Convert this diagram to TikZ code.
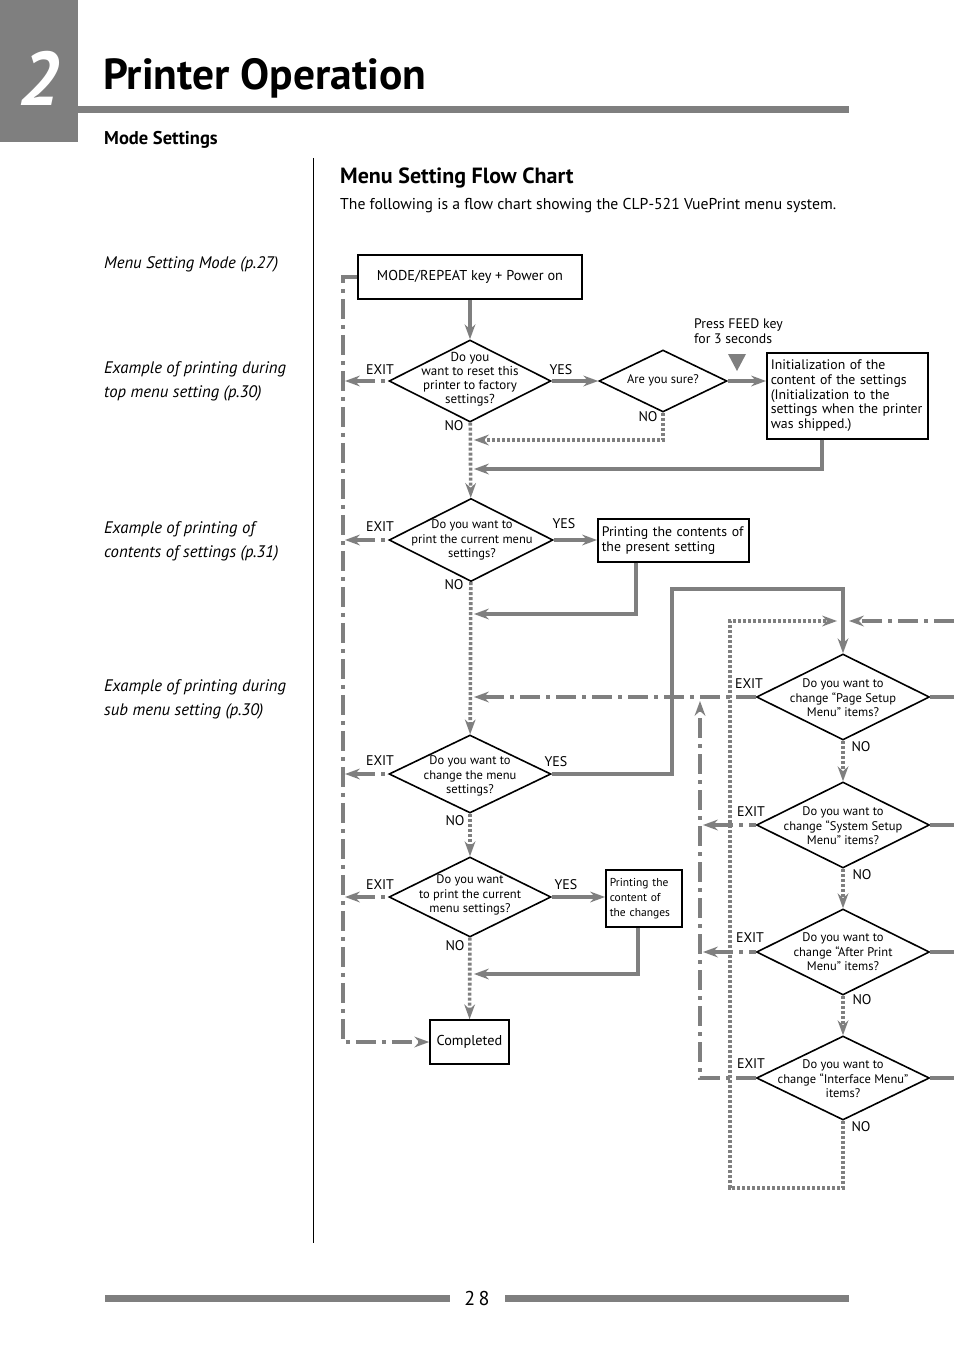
\documentclass[tikz,border=0pt]{standalone}
\usepackage{fontspec}
\setmainfont{PT Sans}
\usetikzlibrary{arrows.meta, shapes.geometric}

\definecolor{flowgrey}{HTML}{7F7F7F}

\tikzset{
    box/.style={draw=black, line width=1.6pt, fill=white, inner sep=0pt, font=\fontsize{14.3}{15.5}\selectfont},
    txtbox/.style={box, anchor=north west, align=left, inner xsep=4pt, font=\fontsize{13.8}{14.6}\selectfont},
    dia/.style={draw=black, line width=1.6pt, fill=white, diamond, inner sep=0pt},
    diatext/.style={align=center, inner sep=0pt, font=\fontsize{12.5}{14.5}\selectfont},
    lbl/.style={inner sep=0pt, font=\fontsize{14}{15}\selectfont},
    note/.style={anchor=west, inner sep=0pt, align=left, font=\fontsize{16.7}{24}\selectfont\itshape},
    greyline/.style={draw=flowgrey, line width=3.6pt},
    tip/.style={-{Stealth[length=15pt,width=11pt,inset=5pt,line width=0pt]}},
    backtip/.style={{Stealth[length=15pt,width=11pt,inset=5pt,line width=0pt]}-},
    go/.style={greyline, tip},
    exitline/.style={greyline, dash pattern=on 20pt off 6pt on 4pt off 6pt},
    exitgo/.style={exitline, tip},
    exitback/.style={exitline, backtip},
    nogo/.style={greyline, dash pattern=on 3pt off 2pt, tip}
}

\begin{document}
\begin{tikzpicture}[x=1pt, y=-1pt]
    \useasboundingbox (0,0) rectangle (954,1348);

    % page head
    \fill[flowgrey] (0,0) rectangle (78,142);
    \node[text=white, font=\fontsize{76}{76}\selectfont\bfseries\itshape] (chapno) at (39,78) {2};
    \fill[flowgrey] (78,106) rectangle (849,113);
    \node[anchor=base west, inner sep=0pt, font=\fontsize{43.5}{43.5}\selectfont\bfseries] (title) at (103,90) {Printer Operation};
    \node[anchor=west, inner sep=0pt, font=\fontsize{18.5}{18.5}\selectfont\bfseries] (section) at (104,140) {Mode Settings};
    \draw[line width=1pt] (313,158) -- (313,1243);
    \node[anchor=west, inner sep=0pt, font=\fontsize{22}{22}\selectfont\bfseries] (head) at (340,178) {Menu Setting Flow Chart};
    \node[anchor=west, inner sep=0pt, font=\fontsize{15.7}{15.7}\selectfont] (intro) at (340,206) {The following is a flow chart showing the CLP-521 VuePrint menu system.};

    % side notes
    \node[note] (note1) at (104,264) {Menu Setting Mode (p.27)};
    \node[note] (note2) at (104,381) {Example of printing during\\top menu setting (p.30)};
    \node[note] (note3) at (104,541) {Example of printing of\\contents of settings (p.31)};
    \node[note] (note4) at (104,699) {Example of printing during\\sub menu setting (p.30)};

    % page foot
    \fill[flowgrey] (105,1295) rectangle (450,1302);
    \fill[flowgrey] (505,1295) rectangle (849,1302);
    \node[inner sep=0pt, font=\fontsize{20}{20}\selectfont] (pageno) at (477,1298) {2\,8};

    % boxes
    \node[box, minimum width=224pt, minimum height=44pt] (start) at (470,277) {MODE/REPEAT key + Power on};
    \node[txtbox, text width=153pt, minimum height=86pt] (init) at (766,352)
        {Initialization of the\\content of the settings\\(Initialization to the\\settings when the printer\\was shipped.)};
    \node[txtbox, text width=143pt, minimum height=43pt] (p1) at (597,518)
        {Printing the contents of\\the present setting};
    \node[txtbox, text width=68pt, minimum height=57pt, font=\fontsize{11.5}{15}\selectfont] (p2) at (605,869)
        {Printing the\\content of\\the changes};
    \node[box, minimum width=79pt, minimum height=44pt] (done) at (469.5,1042) {Completed};

    % diamonds
    \node[dia, minimum width=162pt, minimum height=82pt] (d1) at (470,381) {};
    \node[diatext, font=\fontsize{13}{14}\selectfont] (t1) at (470,379) {Do you\\want to reset this\\printer to factory\\settings?};
    \node[dia, minimum width=128pt, minimum height=62pt] (d2) at (663,381) {};
    \node[diatext] (t2) at (663,380) {Are you sure?};
    \node[dia, minimum width=164pt, minimum height=83pt] (d3) at (471,540) {};
    \node[diatext] (t3) at (472,540) {Do you want to\\print the current menu\\settings?};
    \node[dia, minimum width=162pt, minimum height=78pt] (d4) at (470,774) {};
    \node[diatext] (t4) at (470,776) {Do you want to\\change the menu\\settings?};
    \node[dia, minimum width=162pt, minimum height=80pt] (d9) at (470,897) {};
    \node[diatext] (t9) at (470,895) {Do you want\\to print the current\\menu settings?};
    \node[dia, minimum width=173pt, minimum height=86pt] (d5) at (843,697) {};
    \node[diatext] (t5) at (843,698) {Do you want to\\change ``Page Setup\\Menu'' items?};
    \node[dia, minimum width=173pt, minimum height=86pt] (d6) at (843,825) {};
    \node[diatext] (t6) at (843,826) {Do you want to\\change ``System Setup\\Menu'' items?};
    \node[dia, minimum width=173pt, minimum height=86pt] (d7) at (843,952) {};
    \node[diatext] (t7) at (843,952) {Do you want to\\change ``After Print\\Menu'' items?};
    \node[dia, minimum width=173pt, minimum height=84pt] (d8) at (843,1078) {};
    \node[diatext] (t8) at (843,1079) {Do you want to\\change ``Interface Menu''\\items?};

    % labels
    \node[lbl] (e1) at (380,370) {EXIT};
    \node[lbl] (e3) at (380,527) {EXIT};
    \node[lbl] (e4) at (380,761) {EXIT};
    \node[lbl] (e9) at (380,885) {EXIT};
    \node[lbl] (e5) at (749,684) {EXIT};
    \node[lbl] (e6) at (751,812) {EXIT};
    \node[lbl] (e7) at (750,938) {EXIT};
    \node[lbl] (e8) at (751,1064) {EXIT};
    \node[lbl] (y1) at (561,370) {YES};
    \node[lbl] (y3) at (564,524) {YES};
    \node[lbl] (y4) at (556,762) {YES};
    \node[lbl] (y9) at (566,885) {YES};
    \node[lbl] (n1) at (454,426) {NO};
    \node[lbl] (n2) at (648,417) {NO};
    \node[lbl] (n3) at (454,585) {NO};
    \node[lbl] (n4) at (455,821) {NO};
    \node[lbl] (n9) at (455,946) {NO};
    \node[lbl] (n5) at (861,747) {NO};
    \node[lbl] (n6) at (862,875) {NO};
    \node[lbl] (n7) at (862,1000) {NO};
    \node[lbl] (n8) at (861,1127) {NO};
    \node[anchor=west, align=left, inner sep=0pt, font=\fontsize{13.8}{15}\selectfont] (feed) at (694,331) {Press FEED key\\for 3 seconds};
    \fill[flowgrey] (728,354) -- (746,354) -- (737,371) -- cycle;

    % helper points
    \coordinate (exitL) at (345,0);
    \coordinate (mainV) at (474,0);
    \coordinate (subV) at (703,0);
    \coordinate (rEdge) at (954,0);
    \coordinate (lbot) at (343,1042);
    \coordinate (j1) at (663,440);
    \coordinate (r0) at (822,469);
    \coordinate (r1) at (636,614);
    \coordinate (r2) at (638,974);
    \coordinate (yes4) at (672,589);
    \coordinate (rtop) at (954,621);
    \coordinate (rjoin) at (849,621);
    \coordinate (lpb) at (730,1188);
    \coordinate (lpt) at (730,621);
    \coordinate (lpend) at (837,621);
    \coordinate (upend) at (700,701);

    % main flow
    \draw[go] (start) -- (d1);
    \draw[go] (d1) -- (d2);
    \draw[go] (d2.east) -- (d2.east -| init.west);
    \draw[nogo] (d2.south) -- (j1) -- (j1 -| mainV);
    \draw[go] (init.south -| r0) -- (r0) -- (r0 -| mainV);
    \draw[nogo] (d1) -- (d3);
    \draw[go] (d3.east) -- (d3.east -| p1.west);
    \draw[go] (p1.south -| r1) -- (r1) -- (r1 -| mainV);
    \draw[nogo] (d3) -- (d4);
    \draw[go] (d4.east) -| (yes4) -| (d5.north);
    \draw[nogo] (d4) -- (d9);
    \draw[go] (d9.east) -- (d9.east -| p2.west);
    \draw[go] (p2.south -| r2) -- (r2) -- (r2 -| mainV);
    \draw[nogo] (d9) -- (done);

    % exits to the left
    \draw[exitgo] (start.west) -| (lbot) -- (done);
    \draw[exitback] (d1.west -| exitL) -- (d1.west);
    \draw[exitback] (d3.west -| exitL) -- (d3.west);
    \draw[exitback] (d4.west -| exitL) -- (d4.west);
    \draw[exitback] (d9.west -| exitL) -- (d9.west);

    % sub menus
    \draw[nogo] (d5) -- (d6);
    \draw[nogo] (d6) -- (d7);
    \draw[nogo] (d7) -- (d8);
    \draw[nogo] (d8.south) |- (lpb) -- (lpt) -- (lpend);
    \draw[exitgo] (rtop) -- (rjoin);
    \draw[exitback] (d5.west -| mainV) -- (d5.west);
    \draw[exitback] (d6.west -| subV) -- (d6.west);
    \draw[exitback] (d7.west -| subV) -- (d7.west);
    \draw[exitgo] (d8.west) -| (upend);
    \draw[greyline] (d5.east) -- (d5.east -| rEdge);
    \draw[greyline] (d6.east) -- (d6.east -| rEdge);
    \draw[greyline] (d7.east) -- (d7.east -| rEdge);
    \draw[greyline] (d8.east) -- (d8.east -| rEdge);
\end{tikzpicture}
\end{document}
